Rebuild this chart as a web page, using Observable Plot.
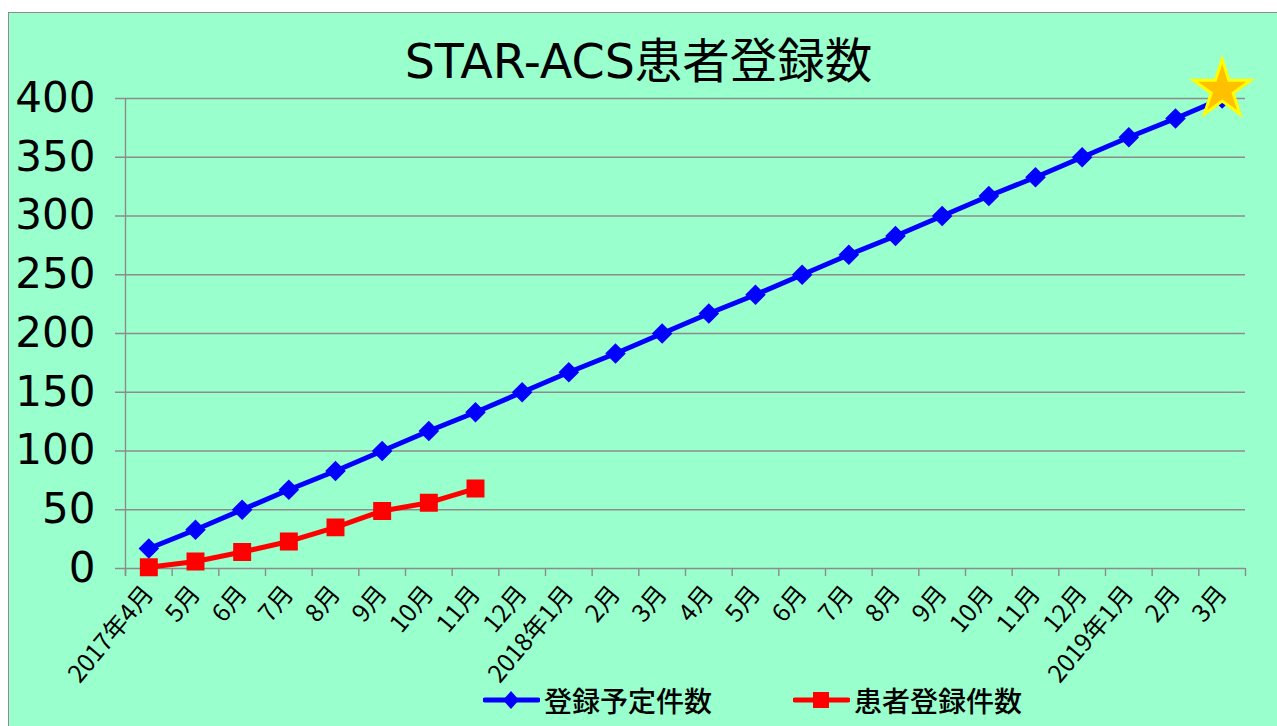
<!DOCTYPE html>
<html><head><meta charset="utf-8">
<script src="https://cdn.jsdelivr.net/npm/d3@7"></script>
<script src="https://cdn.jsdelivr.net/npm/@observablehq/plot@0.6"></script>
<style>
body{margin:0;background:#fff;width:1277px;height:726px;overflow:hidden;position:relative;font-family:"DejaVu Sans","Noto Sans CJK JP",sans-serif;}
#frame{position:absolute;left:8px;top:12px;width:1290px;height:730px;background:#99FFCC;border:1px solid #8c8c8c;box-sizing:border-box;}
#chart{position:absolute;left:0;top:0;}
#title{position:absolute;left:0;width:1277px;top:38px;line-height:48px;text-align:center;font-size:47.5px;color:#000;white-space:nowrap;}
.leg{position:absolute;top:683px;height:34px;display:flex;align-items:center;font-family:"Noto Sans CJK JP",sans-serif;font-size:28px;color:#000;font-weight:500;}
.leg svg{margin-right:4px;}
</style>
</head><body>
<div id="frame"></div>
<div id="chart"></div>
<div id="title"></div>
<div class="leg" id="leg1" style="left:483px"></div>
<div class="leg" id="leg2" style="left:793px"></div>
<script>
const titleText = "STAR-ACS患者登録数";
const xLabels = ["2017年4月","5月","6月","7月","8月","9月","10月","11月","12月","2018年1月","2月","3月","4月","5月","6月","7月","8月","9月","10月","11月","12月","2019年1月","2月","3月"];
const plannedValues = [17,33,50,67,83,100,117,133,150,167,183,200,217,233,250,267,283,300,317,333,350,367,383,400];
const actualValues = [1,6,14,23,35,49,56,68];
const yTicks = [0,50,100,150,200,250,300,350,400];
const seriesNames = ["登録予定件数","患者登録件数"];
const seriesColors = ["#0000FF","#FF0000"];

const idx = xLabels.map((_, i) => i);
const bounds = [...idx.map(i => i - 0.5), xLabels.length - 0.5];
const planned = plannedValues.map((v, i) => ({i, v}));
const actual = actualValues.map((v, i) => ({i, v}));
const goal = [planned[planned.length - 1]];

document.getElementById("title").textContent = titleText;

const chart = Plot.plot({
  width: 1277, height: 726,
  marginLeft: 125, marginRight: 32, marginTop: 98, marginBottom: 158,
  style: {background: "transparent", color: "#000", fontFamily: '"DejaVu Sans","Noto Sans CJK JP",sans-serif', overflow: "visible"},
  x: {type: "linear", domain: [-0.5, xLabels.length - 0.5], axis: null},
  y: {domain: [0, 400], axis: null},
  marks: [
    Plot.ruleY(yTicks, {stroke: "#8c8c8c", strokeWidth: 1.4, insetLeft: -10}),
    Plot.ruleX([-0.5], {stroke: "#8c8c8c", strokeWidth: 1.4, insetBottom: -8}),
    Plot.axisX({ticks: bounds, tickSize: 8, tickFormat: () => "", label: null, stroke: "#8c8c8c", strokeWidth: 1.4}),
    Plot.axisX({ticks: idx, tickSize: 0, tickPadding: 21, dx: 0, tickFormat: i => xLabels[i], label: null, tickRotate: -50, fontSize: 24.5, fontFamily: '"Noto Sans CJK JP",sans-serif'}),
    Plot.axisY({ticks: yTicks, tickSize: 0, tickPadding: 30, label: null, fontSize: 42}),
    Plot.line(planned, {x: "i", y: "v", stroke: seriesColors[0], strokeWidth: 5}),
    Plot.dot(planned, {x: "i", y: "v", symbol: "diamond2", r: 8, fill: seriesColors[0], stroke: seriesColors[0], strokeWidth: 2}),
    Plot.line(actual, {x: "i", y: "v", stroke: seriesColors[1], strokeWidth: 5}),
    Plot.dot(actual, {x: "i", y: "v", symbol: "square", r: 9, fill: seriesColors[1], stroke: seriesColors[1], strokeWidth: 2}),
    Plot.dot(goal, {x: "i", y: "v", symbol: "star", r: 18, dy: -9, fill: "#FFC000", stroke: "#FFFF00", strokeWidth: 3})
  ]
});
document.getElementById("chart").appendChild(chart);

function swatch(color, shape) {
  const s = shape === "diamond"
    ? `<path d="M28,8 L36,17 L28,26 L20,17 Z" fill="${color}"/>`
    : `<rect x="20" y="9" width="16" height="16" fill="${color}"/>`;
  return `<svg width="57" height="34" viewBox="0 0 57 34"><line x1="2" y1="17" x2="55" y2="17" stroke="${color}" stroke-width="5" stroke-linecap="round"/>${s}</svg>`;
}
document.getElementById("leg1").innerHTML = swatch(seriesColors[0], "diamond") + `<span>${seriesNames[0]}</span>`;
document.getElementById("leg2").innerHTML = swatch(seriesColors[1], "square") + `<span>${seriesNames[1]}</span>`;
</script>
</body></html>
